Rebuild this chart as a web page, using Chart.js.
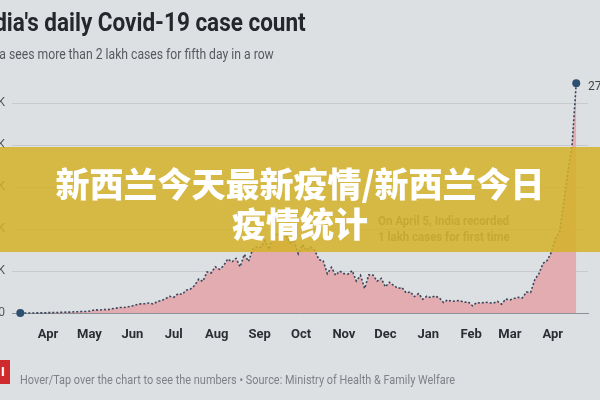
<!DOCTYPE html>
<html>
<head>
<meta charset="utf-8">
<script src="https://cdn.jsdelivr.net/npm/chart.js@4.4.1/dist/chart.umd.min.js"></script>
<style>
    body { margin: 0; background: #dde0e3; width: 600px; height: 400px; overflow: hidden; position: relative;
           font-family: "Liberation Sans Narrow", "Roboto", sans-serif; }
    #chartBox { position: absolute; left: 0; top: 0; width: 600px; height: 400px; }
    .title { position: absolute; left: -25.5px; top: 8px; font-weight: bold; font-size: 25px; color: #24272b; white-space: nowrap;
             transform: scaleX(0.9); transform-origin: 0 0; }
    .subtitle { position: absolute; left: -23px; top: 46px; font-size: 14px; color: #55595e; white-space: nowrap;
                transform: scaleX(0.87); transform-origin: 19px 0; }
    .note { position: absolute; left: 378px; top: 213px; font-weight: bold; font-size: 12.5px; line-height: 16px; color: #6b7075; white-space: nowrap;
            transform: scaleX(0.92); transform-origin: 0 0; }
    .peak { position: absolute; left: 588px; top: 79px; font-size: 12px; color: #444; white-space: nowrap; }
    .logo { position: absolute; left: 0; top: 360px; width: 10px; height: 24px; background: #cf2a2e; color: #fff;
            font-weight: bold; font-size: 13px; line-height: 24px; text-indent: 1px; overflow: hidden; }
    .footer { position: absolute; left: 20px; top: 372px; font-size: 13px; color: #7e8287; white-space: nowrap;
              transform: scaleX(0.84); transform-origin: 0 0; }
    .banner { position: absolute; left: 0; top: 147px; width: 600px; height: 105px; background: rgba(212, 178, 40, 0.85);
              text-align: center; color: #fff; font-family: "Noto Sans CJK SC", sans-serif; font-weight: 900;
              font-size: 34px; line-height: 40px; padding-top: 16px; box-sizing: border-box; z-index: 5; }
</style>
</head>
<body>
<div id="chartBox"><canvas id="covidChart" width="600" height="400"></canvas></div>
<div class="title">India's daily Covid-19 case count</div>
<div class="subtitle">India sees more than 2 lakh cases for fifth day in a row</div>
<div class="peak">273,810</div>
<div class="note">On April 5, India recorded<br>1 lakh cases for first time</div>
<div class="logo">I</div>
<div class="footer">Hover/Tap over the chart to see the numbers • Source: Ministry of Health &amp; Family Welfare</div>
<div class="banner">新西兰今天最新疫情/新西兰今日<br>疫情统计</div>

<script>
    // days counted from 12 Mar 2020, cases in thousands
    const days = [
        0, 3, 6, 9, 12, 15, 18, 21, 24, 27, 30, 33, 36, 39, 42, 45, 48, 51, 54, 57,
        60, 63, 66, 69, 72, 75, 78, 81, 84, 87, 90, 93, 96, 99, 102, 105, 108, 111, 114, 117,
        120, 123, 126, 129, 132, 135, 138, 141, 144, 147, 150, 153, 156, 159, 162, 165, 168, 171, 174, 177,
        180, 183, 186, 189, 192, 195, 198, 201, 204, 207, 210, 213, 216, 219, 222, 225, 228, 231, 234, 237,
        240, 243, 246, 249, 252, 255, 258, 261, 264, 267, 270, 273, 276, 279, 282, 285, 288, 291, 294, 297,
        300, 303, 306, 309, 312, 315, 318, 321, 324, 327, 330, 333, 336, 339, 342, 345, 348, 351, 354, 357,
        360, 363, 366, 369, 372, 375, 378, 381, 384, 387, 390, 393, 396, 399, 402
    ];
    const dailyCases = [
        0.01, 0.02, 0.03, 0.08, 0.1, 0.15, 0.2, 0.5, 0.5, 0.6, 0.9, 1.0, 1.0, 1.4, 1.5, 1.9, 1.8, 2.4, 3.9, 3.3,
        4.2, 3.9, 5.0, 5.6, 6.6, 6.5, 7.5, 8.4, 9.9, 10.9, 11.1, 11.9, 10.7, 13.6, 14.8, 17.0, 19.9, 18.7, 23.0, 22.2,
        27.1, 28.5, 32.7, 40.4, 37.7, 48.9, 47.7, 55.1, 52.0, 56.3, 64.4, 60.9, 65.0, 55.1, 69.9, 61.4, 75.8, 78.5, 78.4, 86.4,
        75.8, 96.6, 92.1, 97.9, 92.6, 83.3, 85.4, 70.6, 81.5, 74.4, 78.5, 74.4, 63.5, 62.2, 46.8, 54.4, 45.1, 49.9, 46.9, 46.3,
        50.4, 38.1, 44.9, 29.2, 45.6, 45.2, 37.9, 41.3, 31.1, 36.6, 32.9, 29.4, 30.3, 24.0, 25.2, 19.6, 23.1, 16.4, 20.0, 18.2,
        20.3, 18.1, 12.6, 15.6, 13.8, 14.5, 14.8, 12.7, 13.1, 8.6, 12.4, 11.8, 12.9, 12.2, 11.6, 13.9, 10.6, 16.6, 15.5, 17.4,
        18.7, 17.9, 24.9, 24.5, 39.7, 46.9, 59.1, 62.7, 72.3, 89.1, 96.9, 131.9, 168.9, 200.7, 273.8
    ];
    const monthTicks = [20, 50, 81, 111, 142, 173, 203, 234, 264, 295, 326, 354, 385];
    const monthLabels = ['Apr', 'May', 'Jun', 'Jul', 'Aug', 'Sep', 'Oct', 'Nov', 'Dec', 'Jan', 'Feb', 'Mar', 'Apr'];
    const yTicks = [0, 50, 100, 150, 200, 250];

    const points = days.map((d, i) => ({ x: d, y: dailyCases[i] }));
    const lastIndex = points.length - 1;

    const ctx = document.getElementById('covidChart').getContext('2d');
    const covidChart = new Chart(ctx, {
        type: 'line',
        data: {
            datasets: [{
                data: points,
                borderColor: '#34465c',
                borderWidth: 1.6,
                borderDash: [2, 2],
                backgroundColor: '#e3acb1',
                fill: 'origin',
                tension: 0,
                pointRadius: c => (c.dataIndex === 0 || c.dataIndex === lastIndex) ? 4 : 0,
                pointBackgroundColor: '#2d4f70',
                pointBorderWidth: 0,
                clip: false
            }]
        },
        options: {
            responsive: false,
            animation: false,
            layout: { padding: { top: 78, right: 12, left: 0, bottom: 0 } },
            scales: {
                x: {
                    type: 'linear',
                    min: -6,
                    max: 410.5,
                    grid: { display: false },
                    border: { color: '#8d9197', width: 1 },
                    afterBuildTicks: s => { s.ticks = monthTicks.map(v => ({ value: v })); },
                    afterFit: s => { s.height = 87; },
                    ticks: {
                        autoSkip: false,
                        maxRotation: 0,
                        padding: 6,
                        color: '#2b2e33',
                        font: { family: '"Liberation Sans Narrow", Roboto, sans-serif', size: 13, weight: 'bold' },
                        callback: v => monthLabels[monthTicks.indexOf(v)]
                    }
                },
                y: {
                    min: 0,
                    max: 280,
                    grid: { color: '#c7cace', drawTicks: false },
                    border: { display: false },
                    afterBuildTicks: s => { s.ticks = yTicks.map(v => ({ value: v })); },
                    afterFit: s => { s.width = 12; },
                    ticks: {
                        padding: 7,
                        color: '#555',
                        font: { family: '"Liberation Sans Narrow", Roboto, sans-serif', size: 12 },
                        callback: v => v === 0 ? '0' : v + 'K'
                    }
                }
            },
            plugins: {
                legend: { display: false },
                tooltip: { enabled: false }
            }
        }
    });
</script>
</body>
</html>
